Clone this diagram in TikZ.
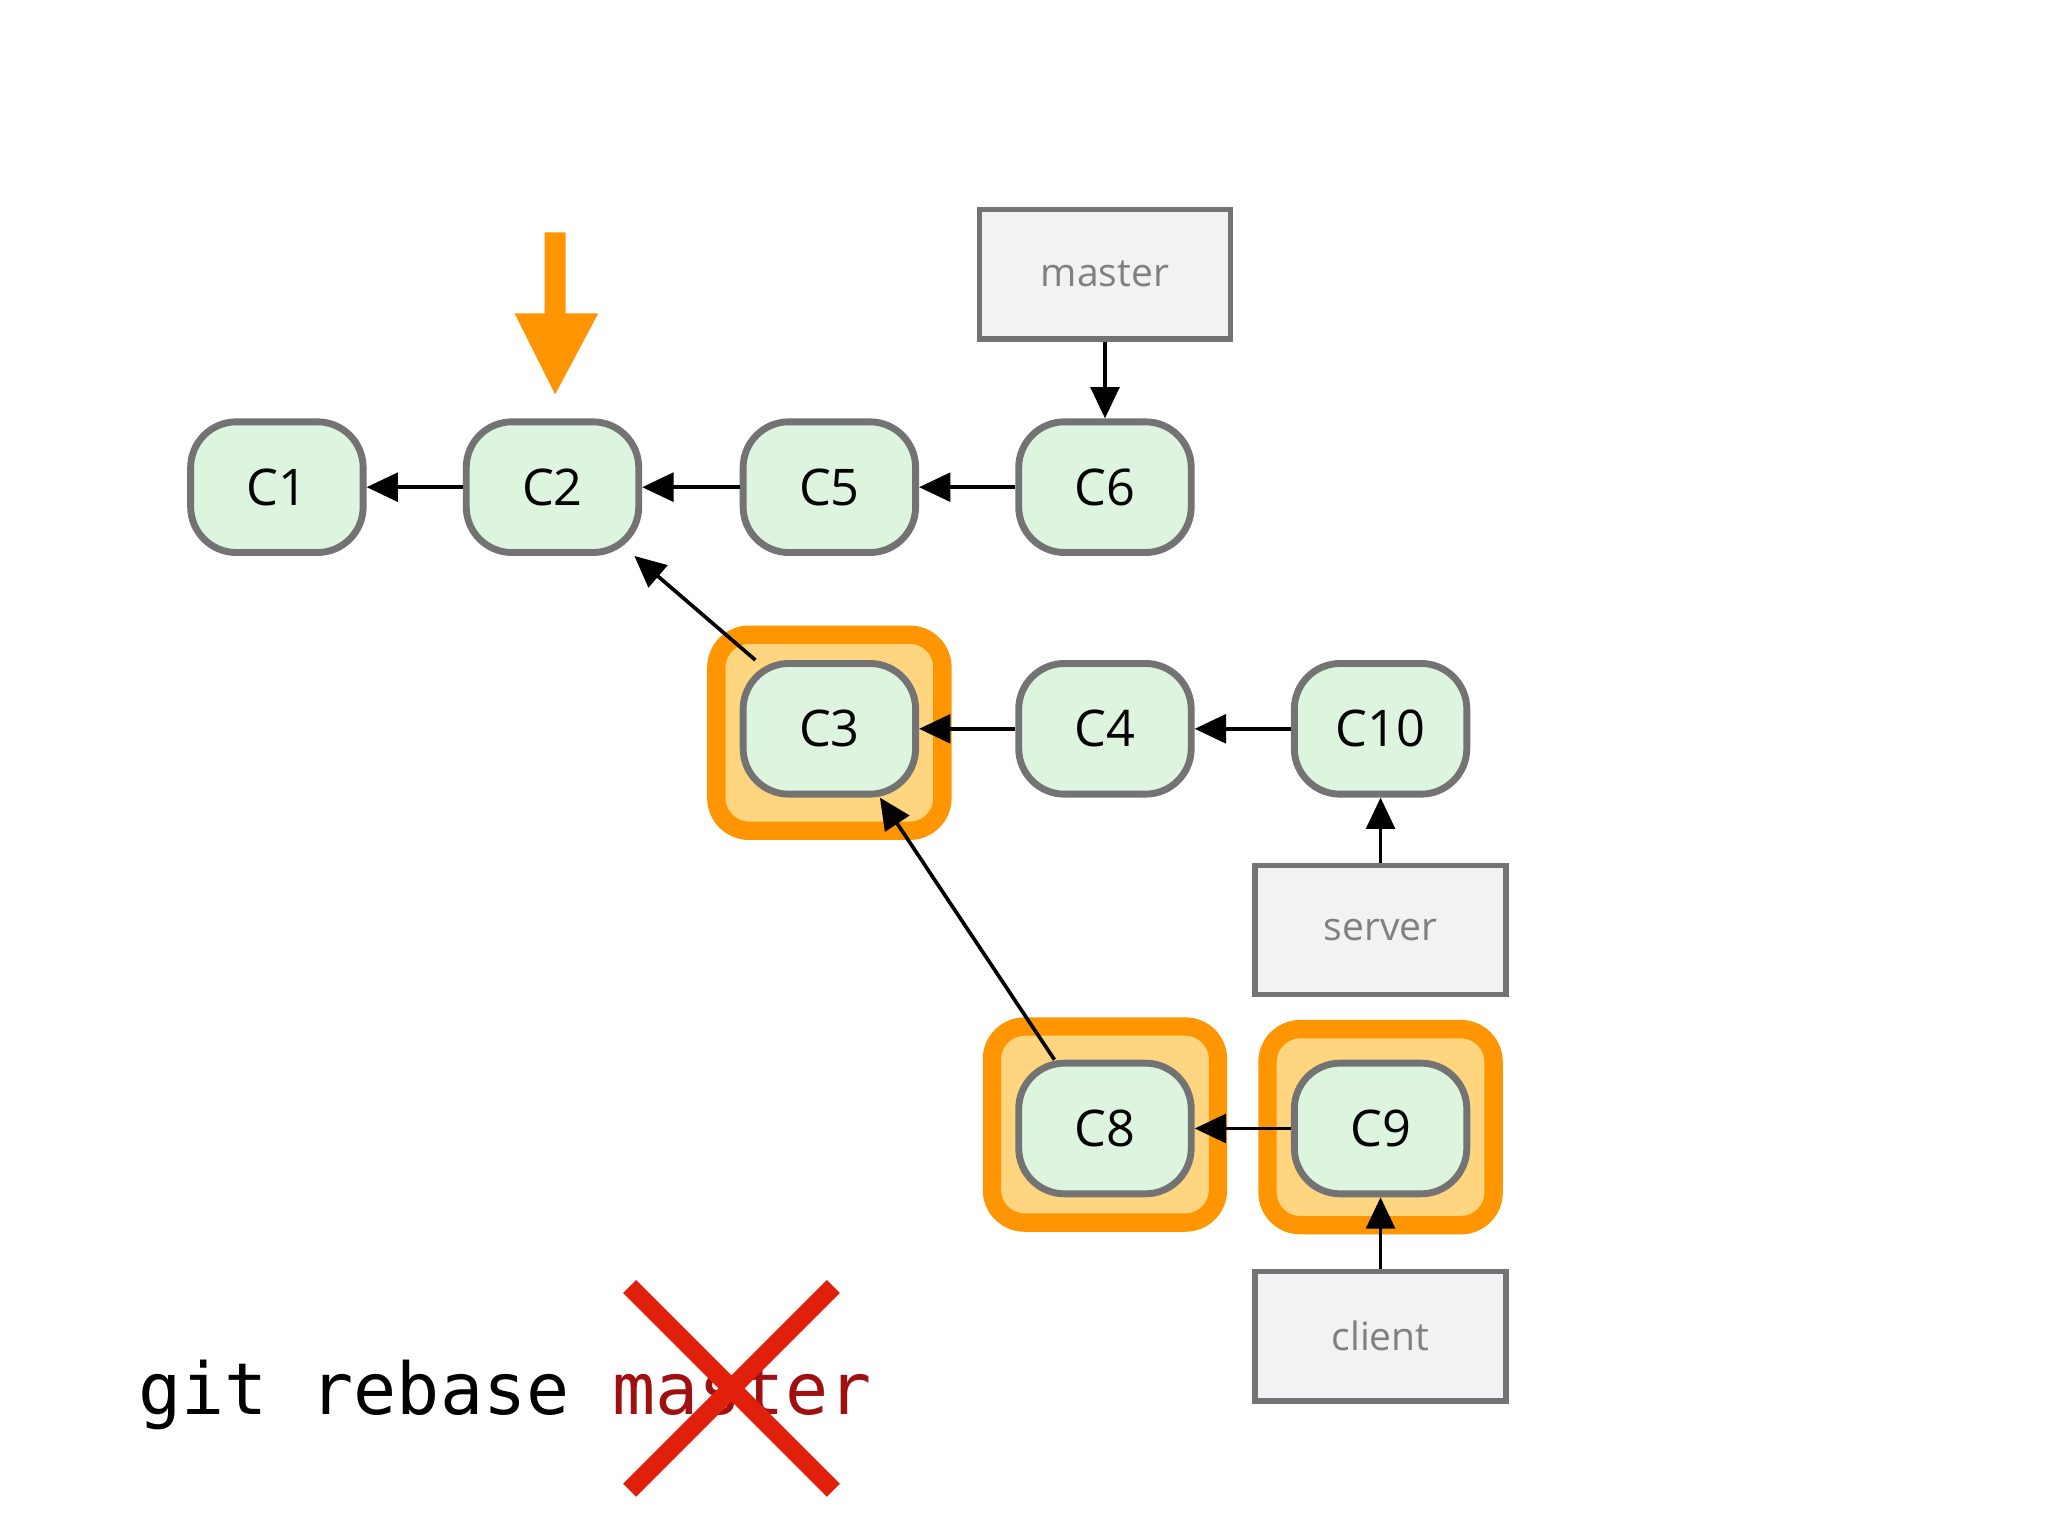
\documentclass[tikz,border=0pt]{standalone}
\usepackage{fontspec}
\setmainfont{Open Sans}
\newfontfamily\monof{DejaVu Sans Mono}
\usetikzlibrary{arrows.meta,calc}
\definecolor{cfill}{HTML}{DDF4DF}
\definecolor{cgray}{HTML}{737373}
\definecolor{bfill}{HTML}{F2F1F3}
\definecolor{hor}{HTML}{FF9500}
\definecolor{hfill}{HTML}{FFD57F}
\definecolor{xred}{HTML}{E0200A}
\definecolor{mred}{HTML}{A01010}
\begin{document}
\begin{tikzpicture}[x=0.01cm,y=-0.01cm,
  commit/.style={draw=cgray,line width=1.5pt,fill=cfill,minimum width=1.32cm,minimum height=1.0cm,rounded corners=0.35cm,font=\fontsize{11}{13}\selectfont},
  branch/.style={draw=cgray,line width=1.2pt,fill=bfill,minimum width=1.92cm,minimum height=0.99cm,text=gray,font=\fontsize{8.5}{10}\selectfont},
  hl/.style={draw=hor,line width=4pt,fill=hfill,rounded corners=0.25cm,minimum width=1.73cm,minimum height=1.50cm},
  arr/.style={-{Triangle[length=0.24cm,width=0.22cm]},line width=0.8pt}]
\useasboundingbox (0,0) rectangle (1568,1176);
\fill[white] (0,0) rectangle (1568,1176);
\node[hl] (h3) at (635,561) {};
\node[hl] (h8) at (846,861) {};
\node[hl] (h9) at (1057,863) {};
\node[commit] (c1) at (212,373) {C1};
\node[commit] (c2) at (423,373) {C2};
\node[commit] (c5) at (635,373) {C5};
\node[commit] (c6) at (846,373) {C6};
\node[commit] (c3) at (635,558) {C3};
\node[commit] (c4) at (846,558) {C4};
\node[commit] (c10) at (1057,558) {C10};
\node[commit] (c8) at (846,864) {C8};
\node[commit] (c9) at (1057,864) {C9};
\node[branch] (master) at (846,210) {master};
\node[branch] (server) at (1057,712) {server};
\node[branch] (client) at (1057,1023) {client};
\draw[arr] (c2) -- (c1);
\draw[arr] (c5) -- (c2);
\draw[arr] (c6) -- (c5);
\draw[arr] (c4) -- (c3);
\draw[arr] (c10) -- (c4);
\draw[arr] (c9) -- (c8);
\draw[arr] ($(c3.north west)+(12,0)$) -- ($(c2.south east)+(-6,0)$);
\draw[arr] ($(c8.north west)+(30,0)$) -- ($(c3.south east)+(-30,0)$);
\draw[arr] (master) -- (c6);
\draw[arr] (server) -- (c10);
\draw[arr] (client) -- (c9);
\coordinate (ot) at (425,302);
\fill[hor] (417,178) -- (433,178) -- (433,240) -- (458,240) -- (ot) -- (394,240) -- (417,240) -- cycle;
\node[anchor=base west,inner sep=0,font=\monof\fontsize{15.6}{18}\selectfont] (cmd) at (105,1083) {git rebase \textcolor{mred}{master}};
\coordinate (x1) at (482,985);
\coordinate (x2) at (638,1141);
\coordinate (x3) at (638,985);
\coordinate (x4) at (482,1141);
\draw[xred,line width=4pt] (x1) -- (x2) (x3) -- (x4);
\end{tikzpicture}
\end{document}
